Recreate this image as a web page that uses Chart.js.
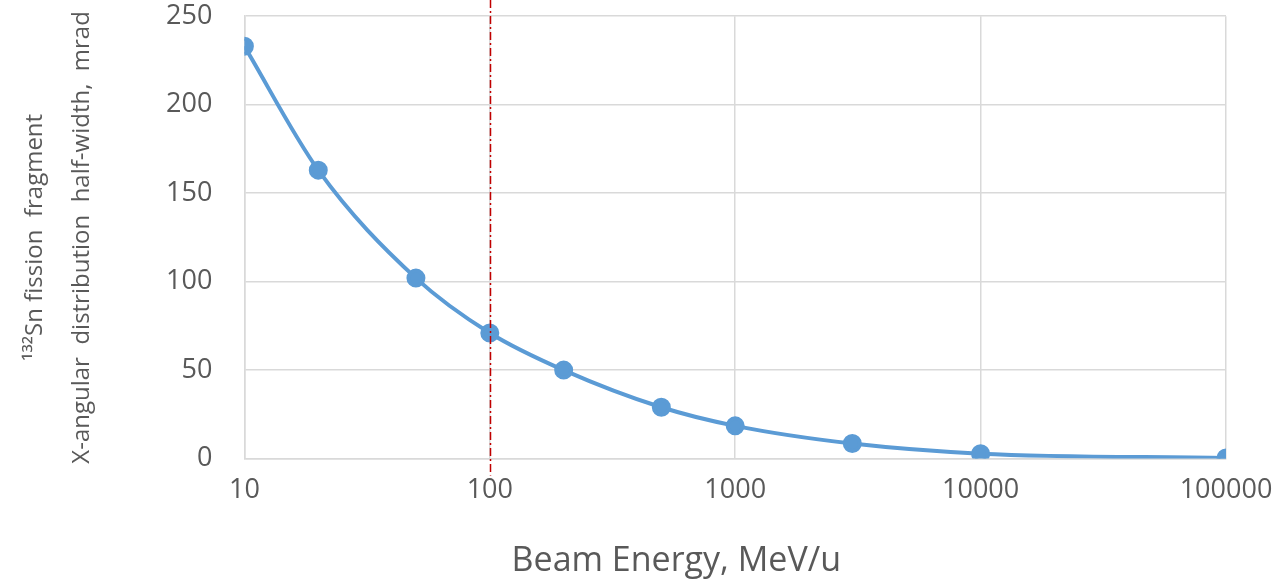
<!DOCTYPE html>
<html>
<head>
<meta charset="utf-8">
<script src="https://cdn.jsdelivr.net/npm/chart.js@4/dist/chart.umd.min.js"></script>
<style>
  html, body { margin: 0; padding: 0; background: #fff; }
  #wrap { width: 1276px; height: 579px; }
</style>
</head>
<body>
<div id="wrap"><canvas id="chart"></canvas></div>
<script>
  // beam energy (MeV/u) and half-width (mrad)
  const energies = [10, 20, 50, 100, 200, 500, 1000, 3000, 10000, 100000];
  const halfWidths = [233, 163, 102, 71, 50, 29, 18.5, 8.5, 2.8, 0.4];
  const xTicks = [10, 100, 1000, 10000, 100000];
  const yTicks = [0, 50, 100, 150, 200, 250];
  const markerEnergy = 100;
  const xTitle = 'Beam Energy, MeV/u';

  const tickColor = '#595959';
  const gridColor = '#d9d9d9';

  // red dash-dot line at the marker energy + x title (sits left of centre in the original)
  const extras = {
    id: 'extras',
    afterDatasetsDraw(chart) {
      let { ctx, chartArea, scales } = chart;
      let x = Math.round(scales.x.getPixelForValue(markerEnergy)) + 0.5;
      ctx.save();
      ctx.strokeStyle = '#c00000';
      ctx.lineWidth = 1.5;
      ctx.setLineDash([8, 3, 2, 3]);
      ctx.beginPath();
      ctx.moveTo(x, 0);
      ctx.lineTo(x, chartArea.bottom + 17);
      ctx.stroke();
      ctx.restore();

      ctx.save();
      ctx.fillStyle = tickColor;
      ctx.font = '34px "Open Sans"';
      ctx.textAlign = 'center';
      ctx.textBaseline = 'middle';
      ctx.fillText(xTitle, chartArea.left + (chartArea.right - chartArea.left) * 0.44, chart.height - 18);
      ctx.restore();
    }
  };

  new Chart(document.getElementById('chart').getContext('2d'), {
    type: 'line',
    data: {
      datasets: [{
        data: energies.map((e, i) => ({ x: e, y: halfWidths[i] })),
        borderColor: '#5b9bd5',
        backgroundColor: '#5b9bd5',
        borderWidth: 4,
        pointRadius: 7.5,
        pointHoverRadius: 7.5,
        cubicInterpolationMode: 'monotone'
      }]
    },
    options: {
      responsive: true,
      maintainAspectRatio: false,
      animation: false,
      layout: { padding: { top: 0, right: 50, left: 10, bottom: 72 } },
      plugins: {
        legend: { display: false },
        tooltip: { enabled: false }
      },
      scales: {
        x: {
          type: 'logarithmic',
          min: 10,
          max: 100000,
          afterBuildTicks: (axis) => { axis.ticks = xTicks.map(v => ({ value: v })); },
          ticks: {
            color: tickColor,
            font: { family: 'Open Sans', size: 27 },
            padding: 0,
            maxRotation: 0,
            autoSkip: false,
            callback: (v) => String(v)
          },
          grid: { color: gridColor, lineWidth: 1.5, drawTicks: true, tickLength: 16, tickColor: 'rgba(0,0,0,0)' },
          border: { color: gridColor, width: 1.5 }
        },
        y: {
          min: 0,
          max: 250,
          afterBuildTicks: (axis) => { axis.ticks = yTicks.map(v => ({ value: v })); },
          ticks: {
            color: tickColor,
            font: { family: 'Open Sans', size: 27 },
            padding: 0
          },
          grid: { color: gridColor, lineWidth: 1.5, drawTicks: true, tickLength: 32, tickColor: 'rgba(0,0,0,0)' },
          border: { color: gridColor, width: 1.5 },
          title: {
            display: true,
            text: ['\u00b9\u00b3\u00b2Sn fission  fragment', 'X-angular  distribution  half-width,  mrad'],
            color: tickColor,
            font: { family: 'Open Sans', size: 24, lineHeight: 1.96 },
            padding: { top: 2, bottom: 60 }
          }
        }
      }
    },
    plugins: [extras]
  });
</script>
</body>
</html>
